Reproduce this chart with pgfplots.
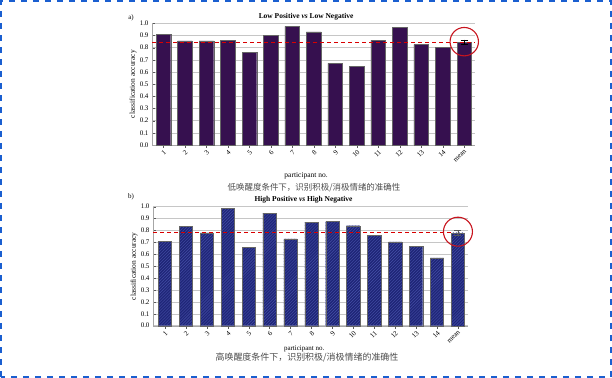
\documentclass[border=0pt]{standalone}
\usepackage{pgfplots}
\pgfplotsset{compat=1.18}
\usepackage{fontspec}
\setmainfont{Liberation Serif}
\newfontfamily\cjk{Noto Sans CJK SC}
\usetikzlibrary{patterns}
\definecolor{lowbar}{HTML}{36104F}
\definecolor{highbar}{HTML}{1F2678}
\definecolor{hatchhi}{HTML}{4650A8}
\definecolor{framecol}{HTML}{1A5FD0}
\definecolor{circred}{HTML}{C8141E}
\pgfplotsset{
  every axis title shift=2bp,
  acc/.style={
    scale only axis,
    anchor=south west,
    ymin=0, ymax=1,
    ytick={0,0.1,...,1.0},
    yticklabel style={/pgf/number format/.cd,fixed,fixed zerofill,precision=1,assume math mode=true},
    ticklabel style={font=\fontsize{7}{8}\selectfont},
    xtick={0,...,14},
    xticklabels={1,2,3,4,5,6,7,8,9,10,11,12,13,14,mean},
    xticklabel style={rotate=45, anchor=north east, inner sep=1pt},
    axis x line*=bottom, axis y line*=left,
    axis line style={gray!70, -},
    tick style={gray!70!black},
    major tick length=3bp,
    ymajorgrids, grid style={gray!45, line width=0.5pt},
    ybar, bar shift=0pt,
    clip=false,
    xlabel={participant no.},
    ylabel={classification accuracy},
    label style={font=\fontsize{7.5}{9}\selectfont},
    ylabel style={at={(axis description cs:0,0.5)}, yshift=12bp},
    title style={font=\fontsize{7.5}{9}\selectfont\bfseries, anchor=south, inner sep=1pt},
  }
}
\begin{document}
\begin{tikzpicture}
\useasboundingbox (0,0) rectangle (612bp,378bp);
\draw[framecol, line width=1.6bp, dash pattern=on 6bp off 6bp] (1bp,1bp) rectangle (611bp,377bp);

% ---------- top panel ----------
\begin{axis}[acc, at={(152bp,233bp)}, width=323bp, height=121.7bp,
  xmin=-0.53, xmax=14.5,
  title={Low Positive \textit{vs} Low Negative},
  title style={at={(axis description cs:0.477,1.0)}},
  xlabel style={at={(axis description cs:0.477,0)}, anchor=north, yshift=-24bp},
]
\addplot[fill=lowbar, draw=gray!80!black, bar width=14.7bp, line width=0.4pt] coordinates {
(0,0.91) (1,0.855) (2,0.855) (3,0.86) (4,0.76) (5,0.90) (6,0.975) (7,0.93)
(8,0.67) (9,0.645) (10,0.86) (11,0.965) (12,0.825) (13,0.805)};
\addplot[fill=lowbar, draw=gray!80!black, bar width=14.7bp, line width=0.4pt,
  error bars/.cd, y dir=both, y explicit, error bar style={black, line width=0.5pt}, error mark options={rotate=90, mark size=3.5bp, black}]
  coordinates {(14,0.845) +- (0,0.02)};
\addplot[sharp plot, red!85!black, line width=1pt, dash pattern=on 4bp off 3bp] coordinates {(-0.53,0.845) (14.5,0.845)};
\addplot[sharp plot, only marks, mark=o, mark size=14.2bp, mark options={draw=circred, line width=1.1pt, fill=none}] coordinates {(14,0.849)};
\end{axis}
\node[font=\fontsize{7}{8}\selectfont, anchor=center] at (131bp,360bp) {a)};
\node[font=\cjk\fontsize{8.5}{10}\selectfont, text=gray!60!black] at (314bp,190bp) {低唤醒度条件下，识别积极/消极情绪的准确性};

% ---------- bottom panel ----------
\begin{axis}[acc, at={(153bp,52.3bp)}, width=315bp, height=119bp,
  xmin=-0.57, xmax=14.48,
  title={High Positive \textit{vs} High Negative},
  title style={at={(axis description cs:0.478,1.0)}},
  xlabel style={at={(axis description cs:0.48,0)}, anchor=north, yshift=-17bp, font=\fontsize{7}{8}\selectfont},
]
\addplot[fill=highbar, draw=gray!80!black, bar width=13.3bp, line width=0.4pt,
  postaction={pattern=north east lines, pattern color=hatchhi}] coordinates {
(0,0.71) (1,0.835) (2,0.78) (3,0.985) (4,0.66) (5,0.945) (6,0.73) (7,0.87)
(8,0.875) (9,0.84) (10,0.76) (11,0.705) (12,0.665) (13,0.57)};
\addplot[fill=highbar, draw=gray!80!black, bar width=13.3bp, line width=0.4pt,
  postaction={pattern=north east lines, pattern color=hatchhi},
  error bars/.cd, y dir=both, y explicit, error bar style={gray!70!black, line width=0.5pt}, error mark options={rotate=90, mark size=3.5bp, gray!70!black}]
  coordinates {(14,0.78) +- (0,0.02)};
\addplot[sharp plot, red!85!black, line width=1pt, dash pattern=on 4bp off 3bp] coordinates {(-0.57,0.785) (13.8,0.785)};
\addplot[sharp plot, only marks, mark=o, mark size=14.5bp, mark options={draw=circred, line width=1.1pt, fill=none}] coordinates {(14,0.79)};
\end{axis}
\node[font=\fontsize{7}{8}\selectfont, anchor=center] at (131bp,181bp) {b)};
\node[font=\cjk\fontsize{9}{11}\selectfont, text=gray!60!black] at (307bp,20.5bp) {高唤醒度条件下，识别积极/消极情绪的准确性};
\end{tikzpicture}
\end{document}
